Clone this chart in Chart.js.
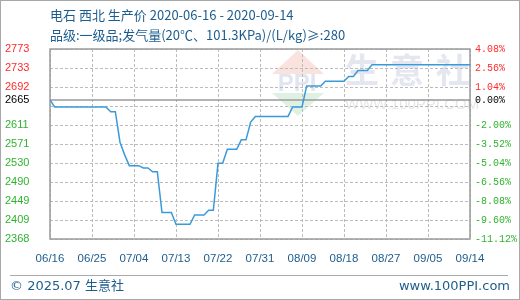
<!DOCTYPE html>
<html lang="zh">
<head>
<meta charset="UTF-8">
<title>电石 西北 生产价</title>
<script src="https://cdn.jsdelivr.net/npm/chart.js"></script>
<style>
    body { margin: 0; background: #fff; }
    canvas { display: block; }
</style>
</head>
<body>
<canvas id="priceChart" width="520" height="300"></canvas>
<script>
    // data
    const titleLine1 = '电石 西北 生产价 2020-06-16 - 2020-09-14';
    const titleLine2 = '品级:一级品;发气量(20℃、101.3KPa)/(L/kg)≥:280';
    const footerLeft = '© 2025.07 生意社';
    const footerRight = 'www.100PPI.com';

    const dateLabels = ['06/16', '06/25', '07/04', '07/13', '07/22', '07/31', '08/09', '08/18', '08/27', '09/05', '09/14'];
    const tickDays = [0, 9, 18, 27, 36, 45, 54, 63, 72, 81, 90];

    // day offset from 2020-06-16 and price (元/吨) at each change point
    const pointDays = [0, 1, 12, 13, 14, 15, 16, 17, 19, 20, 21, 22, 23, 24, 26, 27, 30, 31, 33, 34, 35,
        36, 37, 38, 40, 41, 42, 43, 44, 51, 52, 54, 55, 58, 59, 63, 64, 65, 66, 68, 69, 90];
    const prices = [2665, 2650, 2650, 2640, 2640, 2575, 2548, 2525, 2525, 2520, 2520, 2512, 2512, 2425, 2425,
        2400, 2400, 2420, 2420, 2430, 2430, 2530, 2530, 2560, 2560, 2580, 2580, 2618, 2630, 2630, 2650, 2650,
        2695, 2695, 2705, 2705, 2715, 2715, 2728, 2728, 2740, 2740];

    const pctTicks = [4.08, 2.56, 1.04, 0, -0.48, -2.00, -3.52, -5.04, -6.56, -8.08, -9.60, -11.12];
    const priceTickLabels = ['2773', '2733', '2692', '2665', '', '2611', '2571', '2530', '2490', '2449', '2409', '2368'];
    const pctTickLabels = ['4.08%', '2.56%', '1.04%', '0.00%', '', '-2.00%', '-3.52%', '-5.04%', '-6.56%', '-8.08%', '-9.60%', '-11.12%'];

    const basePrice = prices[0];
    const pctToPrice = p => basePrice * (1 + p / 100);
    const yMax = pctToPrice(pctTicks[0]);
    const yMin = pctToPrice(pctTicks[pctTicks.length - 1]);

    const blueText = '#1d5d8e';
    const gridGray = '#bcbcbc';

    function tickIndex(value) {
        return pctTicks.findIndex(p => Math.abs(pctToPrice(p) - value) < 0.01);
    }
    function tickColor(ctx) {
        let i = tickIndex(ctx.tick.value);
        if (i < 0) return '#000';
        if (pctTicks[i] > 0) return '#ff2a2a';
        if (pctTicks[i] < 0) return '#2fb32f';
        return '#000';
    }
    function setPctTicks(scale) {
        scale.ticks = pctTicks.map(p => ({ value: pctToPrice(p) }));
    }

    const decorPlugin = {
        id: 'decor',
        beforeDraw(chart) {
            let ctx = chart.ctx;
            ctx.save();
            ctx.fillStyle = '#fff';
            ctx.fillRect(0, 0, chart.width, chart.height);

            // faint watermark: logo + 生意社
            ctx.fillStyle = 'rgba(240, 160, 150, 0.3)';
            ctx.beginPath();
            ctx.moveTo(298, 50); ctx.lineTo(324, 74); ctx.lineTo(272, 74); ctx.closePath();
            ctx.fill();
            ctx.fillStyle = 'rgba(150, 210, 160, 0.3)';
            ctx.beginPath();
            ctx.moveTo(272, 93); ctx.lineTo(324, 93); ctx.lineTo(298, 116); ctx.closePath();
            ctx.fill();
            ctx.fillStyle = 'rgba(180, 190, 220, 0.4)';
            ctx.font = 'bold 24px "Liberation Sans"';
            ctx.textAlign = 'center';
            ctx.textBaseline = 'middle';
            ctx.fillText('PPI', 297, 84);

            ctx.fillStyle = 'rgba(205, 210, 228, 0.55)';
            ctx.font = 'bold 34px "Noto Sans CJK SC"';
            ctx.fillText('生', 362, 70);
            ctx.fillText('意', 407, 70);
            ctx.fillText('社', 453, 70);
            ctx.fillStyle = 'rgba(210, 210, 210, 0.55)';
            ctx.font = '15px "Liberation Sans"';
            ctx.textAlign = 'left';
            ctx.fillText('WWW.100PPI.COM', 345, 105);
            ctx.restore();
        },
        beforeDatasetsDraw(chart) {
            let ctx = chart.ctx;
            let area = chart.chartArea;
            let xs = chart.scales.x;
            let ys = chart.scales.y;
            ctx.save();

            // dashed grid on the scale ticks
            ctx.strokeStyle = gridGray;
            ctx.lineWidth = 1;
            ctx.setLineDash([3, 2]);
            ctx.beginPath();
            for (let t of xs.ticks) {
                let px = Math.round(xs.getPixelForValue(t.value)) + 0.5;
                ctx.moveTo(px, area.top);
                ctx.lineTo(px, area.bottom);
            }
            for (let t of ys.ticks) {
                if (Math.abs(t.value - basePrice) < 0.01) continue;
                let py = Math.round(ys.getPixelForValue(t.value)) + 0.5;
                ctx.moveTo(area.left, py);
                ctx.lineTo(area.right, py);
            }
            ctx.stroke();
            ctx.setLineDash([]);

            let zeroY = ys.getPixelForValue(basePrice);
            ctx.strokeStyle = '#9a9a9a';
            ctx.lineWidth = 1.5;
            ctx.beginPath();
            ctx.moveTo(area.left, zeroY);
            ctx.lineTo(area.right, zeroY);
            ctx.stroke();
            ctx.strokeRect(area.left, area.top, area.right - area.left, area.bottom - area.top);
            ctx.restore();
        },
        afterDraw(chart) {
            let ctx = chart.ctx;
            ctx.save();
            ctx.fillStyle = blueText;
            ctx.textBaseline = 'middle';
            ctx.font = '13px "Noto Sans CJK SC"';
            ctx.fillText(titleLine1, 50, 15);
            ctx.fillText(titleLine2, 50, 35);

            ctx.strokeStyle = '#aaa';
            ctx.lineWidth = 1;
            ctx.beginPath();
            ctx.moveTo(10, 275.5);
            ctx.lineTo(508, 275.5);
            ctx.stroke();

            ctx.font = '13px "DejaVu Sans", "Noto Sans CJK SC"';
            ctx.fillText(footerLeft, 10, 287);
            ctx.textAlign = 'right';
            ctx.fillText(footerRight, 510, 287);

            ctx.strokeStyle = '#a8a8a8';
            ctx.strokeRect(0.5, 0.5, chart.width - 1, chart.height - 1);
            ctx.restore();
        }
    };

    let priceChart = new Chart(document.getElementById('priceChart').getContext('2d'), {
        type: 'line',
        data: {
            datasets: [{
                data: pointDays.map((d, i) => ({ x: d, y: prices[i] })),
                borderColor: '#3a9ad9',
                borderWidth: 1.5,
                pointRadius: 0,
                tension: 0,
                fill: false,
                yAxisID: 'y'
            }]
        },
        options: {
            responsive: false,
            animation: false,
            layout: { padding: { left: 5, top: 49, right: 0, bottom: 0 } },
            plugins: {
                legend: { display: false },
                tooltip: { enabled: false }
            },
            scales: {
                x: {
                    type: 'linear',
                    min: 0,
                    max: 90,
                    afterBuildTicks: scale => { scale.ticks = tickDays.map(d => ({ value: d })); },
                    afterFit: scale => { scale.height = 61; },
                    grid: { display: false, drawTicks: false },
                    border: { display: false },
                    ticks: {
                        autoSkip: false,
                        maxRotation: 0,
                        padding: 13,
                        color: blueText,
                        font: { family: 'Liberation Sans', size: 11.5 },
                        callback: (v, i) => dateLabels[i]
                    }
                },
                y: {
                    type: 'linear',
                    position: 'left',
                    min: yMin,
                    max: yMax,
                    afterBuildTicks: setPctTicks,
                    afterFit: scale => { scale.width = 45; },
                    grid: { display: false, drawTicks: false },
                    border: { display: false },
                    ticks: {
                        autoSkip: false,
                        crossAlign: 'far',
                        color: tickColor,
                        font: { family: 'Liberation Sans', size: 11 },
                        callback: value => priceTickLabels[tickIndex(value)]
                    }
                },
                yPct: {
                    type: 'linear',
                    position: 'right',
                    min: yMin,
                    max: yMax,
                    afterBuildTicks: setPctTicks,
                    afterFit: scale => { scale.width = 50; },
                    grid: { display: false, drawTicks: false },
                    border: { display: false },
                    ticks: {
                        autoSkip: false,
                        padding: 5,
                        color: tickColor,
                        font: { family: 'Liberation Mono', size: 10 },
                        callback: value => pctTickLabels[tickIndex(value)]
                    }
                }
            }
        },
        plugins: [decorPlugin]
    });
</script>
</body>
</html>
